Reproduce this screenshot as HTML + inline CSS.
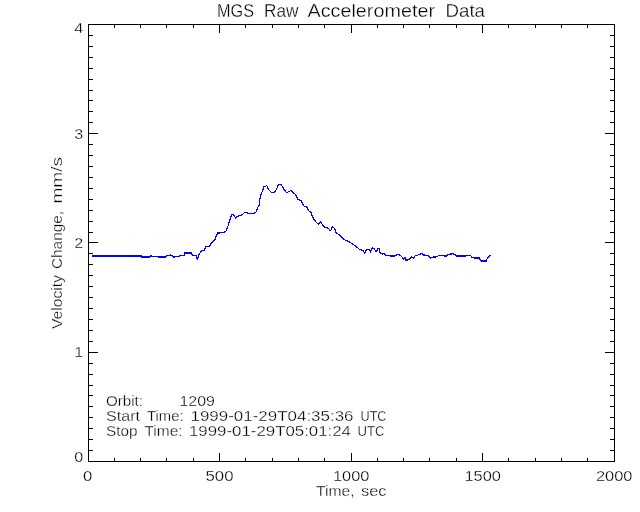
<!DOCTYPE html>
<html><head><meta charset="utf-8"><title>MGS Raw Accelerometer Data</title>
<style>
html,body{margin:0;padding:0;background:#fff;}
body{width:640px;height:512px;overflow:hidden;}
svg{display:block;font-family:"Liberation Sans",sans-serif;fill:#000;}
.ax{fill:none;stroke:#000;stroke-width:1;shape-rendering:crispEdges;}
.dat{fill:none;stroke:#00f;stroke-width:1.2;stroke-linejoin:round;shape-rendering:crispEdges;}
text{font-size:14px;stroke:#fff;stroke-width:0.28px;}
#txt{filter:grayscale(1);}
.t{font-size:17.5px;}
.k{font-size:15.3px;}
.j{font-size:14.5px;}
</style></head><body>
<svg width="640" height="512" viewBox="0 0 640 512">
<rect width="640" height="512" fill="#fff"/>
<path class="ax" d="M88.5 24.5H614.5V461.5H88.5Z"/>
<path class="ax" d="M114.5 462V458M114.5 24V28M140.5 462V458M140.5 24V28M166.5 462V458M166.5 24V28M193.5 462V458M193.5 24V28M219.5 462V453M219.5 24V33M245.5 462V458M245.5 24V28M272.5 462V458M272.5 24V28M298.5 462V458M298.5 24V28M324.5 462V458M324.5 24V28M351.5 462V453M351.5 24V33M377.5 462V458M377.5 24V28M403.5 462V458M403.5 24V28M429.5 462V458M429.5 24V28M456.5 462V458M456.5 24V28M482.5 462V453M482.5 24V33M508.5 462V458M508.5 24V28M535.5 462V458M535.5 24V28M561.5 462V458M561.5 24V28M587.5 462V458M587.5 24V28M88 450.5H93M615 450.5H610M88 439.5H93M615 439.5H610M88 428.5H93M615 428.5H610M88 417.5H93M615 417.5H610M88 406.5H93M615 406.5H610M88 395.5H93M615 395.5H610M88 385.5H93M615 385.5H610M88 374.5H93M615 374.5H610M88 363.5H93M615 363.5H610M88 352.5H98M615 352.5H605M88 341.5H93M615 341.5H610M88 330.5H93M615 330.5H610M88 319.5H93M615 319.5H610M88 308.5H93M615 308.5H610M88 297.5H93M615 297.5H610M88 286.5H93M615 286.5H610M88 275.5H93M615 275.5H610M88 264.5H93M615 264.5H610M88 253.5H93M615 253.5H610M88 242.5H98M615 242.5H605M88 232.5H93M615 232.5H610M88 221.5H93M615 221.5H610M88 210.5H93M615 210.5H610M88 199.5H93M615 199.5H610M88 188.5H93M615 188.5H610M88 177.5H93M615 177.5H610M88 166.5H93M615 166.5H610M88 155.5H93M615 155.5H610M88 144.5H93M615 144.5H610M88 133.5H98M615 133.5H605M88 122.5H93M615 122.5H610M88 111.5H93M615 111.5H610M88 100.5H93M615 100.5H610M88 90.5H93M615 90.5H610M88 79.5H93M615 79.5H610M88 68.5H93M615 68.5H610M88 57.5H93M615 57.5H610M88 46.5H93M615 46.5H610M88 35.5H93M615 35.5H610"/>
<path fill="#00f" shape-rendering="crispEdges" d="M92 255h49.5v2h-49.5zM141 256h9v2h-9zM158 256h8v2h-8zM185 252h6.5v2h-6.5zM456 255h10v2h-10zM473.5 257h6v2h-6zM481 260h6v2h-6z"/>
<polyline class="dat" points="141,256.9 150,256.9 150.5,255.4 151.5,255.4 152,256.4 158,256.4 158.5,257.2 166,257.2 166.5,255.8 170,255.6 170.6,254.7 172,255.8 173.5,257 174.2,257.6 175,256.3 179,256.3 180,255.3 184,255.3 185,252.7 191.6,252.7 192.3,255.6 196.4,255.8 197.3,259.6 198.5,255.6 200.4,252.5 201.6,250.6 204.7,250.6 205.4,246.4 209.7,246.1 211.2,243 213.5,241.2 214.8,239.8 217.5,233.1 222.7,232.7 225.8,231.6 228.1,225.8 229.7,220.3 231.7,214.8 233.6,214.5 235.6,218 237.5,216.4 241.4,215.3 244.5,212.6 246.9,212.6 248.4,213.3 254.7,213.1 256.2,211.7 257.5,207.8 259,205.5 260.2,197.5 261.6,193 263.9,186.9 266.8,185.6 268.6,189.5 271.7,192.7 274.4,192.7 276.4,189.5 278.4,184.8 281.1,184.5 283.4,188.4 286.6,192.7 288.9,191.6 291.2,190.3 293.6,193.4 295.6,194.2 297.5,198.9 300.9,200.5 303.7,205.9 306.9,207.2 309.2,211.4 310.8,212.2 312.3,216.6 314.7,220.3 316.6,222.8 318.6,224.4 320.6,221.6 322.5,224.7 324.8,227 328,228.1 330.6,230.8 332.6,226.5 335,229.2 335.6,232.2 338.7,234.4 341.9,237.5 344.4,239.7 348.7,241.5 352.5,244 356.2,246.5 359.4,249.4 363.1,250.6 364.7,253.1 366.5,249.4 369.4,249.7 370.6,251.9 372.5,247.7 374.4,249 376,251.9 378.1,248.5 379.4,248.5 380,252.5 381.9,254 384.4,253.7 386.2,256 388.1,255 390,256 395,256 396.9,254.7 399.4,254.7 401.9,256.9 403.7,259.4 405,257.5 405.6,260 408.1,259.9 410.2,258.4 411.7,256.6 413.3,258.4 414.8,256.1 418,255 421.6,253.4 423.4,255 427.3,255.3 429.7,256.9 430.5,258.7 431.2,257.2 436.7,256.9 439,255.3 446.1,256.1 447.7,254.5 453.1,253.7 456.2,255.6 465.6,255.6 470.3,255.3 471.9,257.2 478.1,258.1 481.2,260.8 485.9,260.8 487.5,258.4 488.3,256.6 490.5,255.3"/>
<g id="txt">
<text class="t" x="217" y="16.5" textLength="37" lengthAdjust="spacingAndGlyphs">MGS</text>
<text class="t" x="264" y="16.5" textLength="34.5" lengthAdjust="spacingAndGlyphs">Raw</text>
<text class="t" x="307.5" y="16.5" textLength="127.5" lengthAdjust="spacingAndGlyphs">Accelerometer</text>
<text class="t" x="445.5" y="16.5" textLength="39.5" lengthAdjust="spacingAndGlyphs">Data</text>
<text class="j" x="74.2" y="33.2" textLength="9" lengthAdjust="spacingAndGlyphs">4</text>
<text class="j" x="74.2" y="139" textLength="9" lengthAdjust="spacingAndGlyphs">3</text>
<text class="j" x="74.2" y="248" textLength="9" lengthAdjust="spacingAndGlyphs">2</text>
<text class="j" x="74.2" y="357.1" textLength="9" lengthAdjust="spacingAndGlyphs">1</text>
<text class="j" x="74.2" y="461.9" textLength="9" lengthAdjust="spacingAndGlyphs">0</text>
<text class="k" x="83" y="480.7" textLength="9.3" lengthAdjust="spacingAndGlyphs">0</text>
<text class="k" x="205.5" y="480.7" textLength="28" lengthAdjust="spacingAndGlyphs">500</text>
<text class="k" x="333" y="480.7" textLength="36.5" lengthAdjust="spacingAndGlyphs">1000</text>
<text class="k" x="464.5" y="480.7" textLength="36.5" lengthAdjust="spacingAndGlyphs">1500</text>
<text class="k" x="596" y="480.7" textLength="36.5" lengthAdjust="spacingAndGlyphs">2000</text>
<text x="316" y="496.1" textLength="38.5" lengthAdjust="spacingAndGlyphs">Time,</text>
<text x="361" y="496.1" textLength="25.5" lengthAdjust="spacingAndGlyphs">sec</text>
<g transform="translate(62,0) rotate(-90)">
<text x="-329" y="0" textLength="54" lengthAdjust="spacingAndGlyphs">Velocity</text>
<text x="-269" y="0" textLength="58" lengthAdjust="spacingAndGlyphs">Change,</text>
<text x="-203.5" y="0" textLength="46.5" lengthAdjust="spacingAndGlyphs">mm/s</text>
</g>
<text x="106" y="405.5" textLength="37" lengthAdjust="spacingAndGlyphs">Orbit:</text>
<text x="179.5" y="405.5" textLength="35.5" lengthAdjust="spacingAndGlyphs">1209</text>
<text x="106" y="420.7" textLength="34" lengthAdjust="spacingAndGlyphs">Start</text>
<text x="147" y="420.7" textLength="36.5" lengthAdjust="spacingAndGlyphs">Time:</text>
<text x="190.5" y="420.7" textLength="163" lengthAdjust="spacingAndGlyphs">1999-01-29T04:35:36</text>
<text x="360.5" y="420.7" textLength="26" lengthAdjust="spacingAndGlyphs">UTC</text>
<text x="106" y="435.7" textLength="31.5" lengthAdjust="spacingAndGlyphs">Stop</text>
<text x="144.5" y="435.7" textLength="38" lengthAdjust="spacingAndGlyphs">Time:</text>
<text x="189" y="435.7" textLength="162" lengthAdjust="spacingAndGlyphs">1999-01-29T05:01:24</text>
<text x="357.5" y="435.7" textLength="27" lengthAdjust="spacingAndGlyphs">UTC</text>

</g>
</svg>
</body></html>
